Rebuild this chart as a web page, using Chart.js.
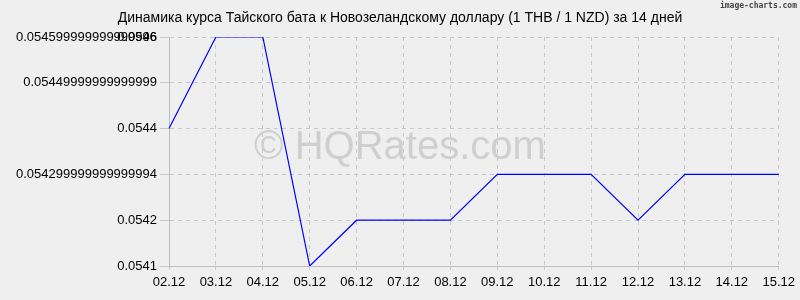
<!DOCTYPE html>
<html><head><meta charset="utf-8">
<script src="https://cdn.jsdelivr.net/npm/chart.js@4"></script>
<style>html,body{margin:0;padding:0;background:#efefef;}#wrap{width:800px;height:300px;}</style>
</head><body><div id="wrap"><canvas id="c" width="800" height="300"></canvas></div>
<script>
const categories = ["02.12","03.12","04.12","05.12","06.12","07.12","08.12","09.12","10.12","11.12","12.12","13.12","14.12","15.12"];
const rates = [0.0544,0.0546,0.0546,0.0541,0.0542,0.0542,0.0542,0.0543,0.0543,0.0543,0.0542,0.0543,0.0543,0.0543];
const yTickValues = [0.0541,0.0542,0.0543,0.0544,0.0545,0.0546,0.0546];
const yTickLabels = ["0.0541","0.0542","0.054299999999999994","0.0544","0.05449999999999999","0.054599999999999996","0.0546"];
const titleText = "Динамика курса Тайского бата к Новозеландскому доллару (1 THB / 1 NZD) за 14 дней";
const watermarkText = "© HQRates.com";
const creditText = "image-charts.com";

const decor = {
  id: 'decor',
  beforeDraw(chart) {
    const ctx = chart.ctx;
    ctx.save();
    ctx.fillStyle = '#efefef';
    ctx.fillRect(0, 0, chart.width, chart.height);
    ctx.restore();
  },
  beforeDatasetsDraw(chart) {
    const ctx = chart.ctx;
    ctx.save();
    ctx.font = '40px "Liberation Sans", Arial, sans-serif';
    ctx.fillStyle = '#cfcfcf';
    ctx.textAlign = 'center';
    ctx.textBaseline = 'middle';
    ctx.fillText(watermarkText, 400, 148);
    ctx.restore();
  },
  afterDraw(chart) {
    const ctx = chart.ctx;
    ctx.save();
    ctx.font = '14px "Liberation Sans", Arial, sans-serif';
    ctx.fillStyle = '#000';
    ctx.textAlign = 'center';
    ctx.textBaseline = 'middle';
    ctx.fillText(titleText, 400, 18);
    ctx.font = 'bold 8px "DejaVu Sans Mono", monospace';
    ctx.fillStyle = '#444';
    ctx.textAlign = 'right';
    ctx.fillText(creditText, 797, 6);
    ctx.restore();
  }
};

new Chart(document.getElementById('c'), {
  type: 'line',
  data: {
    labels: categories,
    datasets: [{
      data: rates,
      borderColor: '#0000ff',
      borderWidth: 1.2,
      pointRadius: 0,
      tension: 0,
      fill: false
    }]
  },
  options: {
    responsive: false,
    animation: false,
    devicePixelRatio: 1,
    layout: { padding: { top: 37, right: 21, left: 0, bottom: 0 } },
    plugins: { legend: { display: false }, title: { display: false }, tooltip: { enabled: false } },
    scales: {
      x: {
        type: 'category',
        offset: false,
        afterFit(s) { s.height = 34; },
        grid: { color: '#c8c8c8', tickLength: 4, drawTicks: true },
        border: { display: true, color: '#bdbdbd', dash: [4, 4] },
        ticks: { color: '#000', font: { family: '"Liberation Sans", Arial, sans-serif', size: 13 }, padding: 5, maxRotation: 0, autoSkip: false }
      },
      y: {
        type: 'linear',
        min: 0.0541,
        max: 0.0546,
        afterFit(s) { s.width = 169; },
        afterBuildTicks(s) { s.ticks = yTickValues.map((v) => ({ value: v })); },
        grid: { color: '#c8c8c8', tickLength: 9 },
        border: { display: true, color: '#bdbdbd', dash: [4, 4] },
        ticks: {
          color: '#000',
          font: { family: '"Liberation Sans", Arial, sans-serif', size: 13 },
          padding: 3,
          callback(v, i) { return yTickLabels[i]; }
        }
      }
    }
  },
  plugins: [decor]
});
</script>
</body></html>
